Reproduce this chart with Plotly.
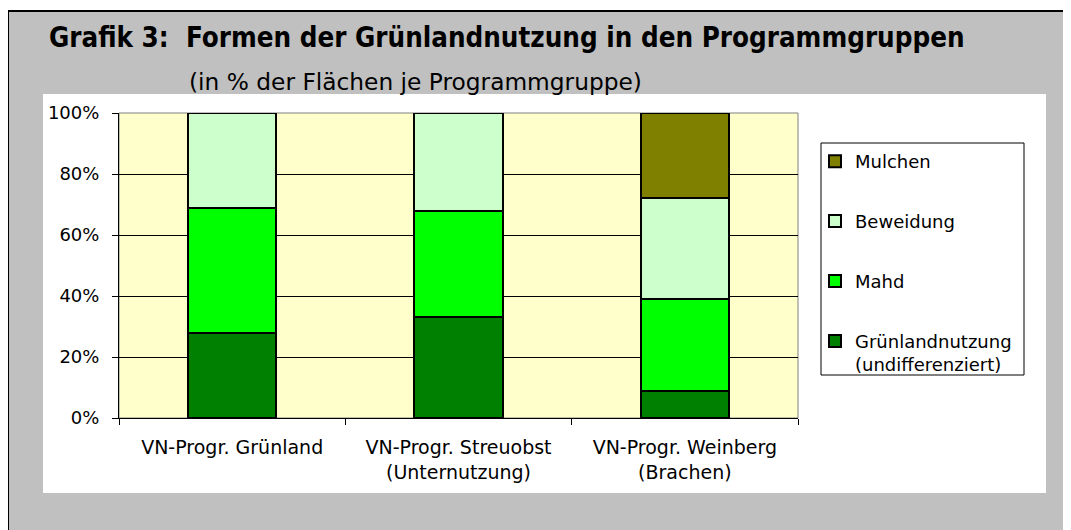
import plotly.graph_objects as go

categories = ["VN-Progr. Grünland", "VN-Progr. Streuobst<br>(Unternutzung)", "VN-Progr. Weinberg<br>(Brachen)"]
series_names = ["Grünlandnutzung<br>(undifferenziert)", "Mahd", "Beweidung", "Mulchen"]
gruenland = [28, 33, 9]
mahd = [41, 35, 30]
beweidung = [31, 32, 33]
mulchen = [0, 0, 28]
colors = ["#008000", "#00FF00", "#CCFFCC", "#808000"]
ranks = [4, 3, 2, 1]
y_ticks = [0, 20, 40, 60, 80, 100]

W, H = 1071, 530
OFF = 8  # page body margin
L, R, T, B = 119, 798, 113, 418  # plot area in screen px


def px_x(px):
    return (px - L) / (R - L)


def px_y(py):
    return (B - py) / (B - T)


fig = go.Figure()
for name, vals, col, rk in zip(series_names, [gruenland, mahd, beweidung, mulchen], colors, ranks):
    fig.add_trace(go.Bar(
        x=categories, y=vals, name=name, legendgroup=name, legendrank=rk,
        marker=dict(color=col, line=dict(color="#000000", width=2)),
        width=0.39,
    ))

shapes = [
    dict(type="rect", xref="paper", yref="paper", x0=px_x(8), x1=px_x(1090), y0=px_y(550), y1=px_y(11),
         fillcolor="#C0C0C0", line=dict(color="#000000", width=2), layer="below"),
    dict(type="rect", xref="paper", yref="paper", x0=px_x(43), x1=px_x(1046), y0=px_y(493), y1=px_y(94),
         fillcolor="#FFFFFF", line=dict(width=0), layer="below"),
    dict(type="rect", xref="paper", yref="paper", x0=0, x1=1, y0=0, y1=1,
         fillcolor="#FFFFCC", line=dict(color="#808080", width=1), layer="below"),
    dict(type="rect", xref="paper", yref="paper", x0=px_x(821), x1=px_x(1024), y0=px_y(375), y1=px_y(143),
         fillcolor="#FFFFFF", line=dict(color="#000000", width=1), layer="above"),
]

annotations = [
    dict(text="<b>Grafik 3:\u00a0\u00a0Formen der Grünlandnutzung in den Programmgruppen</b>",
         xref="paper", yref="paper", x=px_x(47), y=px_y(37), xanchor="left", yanchor="middle",
         showarrow=False,
         font=dict(family="Liberation Sans Narrow, Arial Narrow, DejaVu Sans Condensed, sans-serif", size=27.5, color="#000000")),
    dict(text="(in % der Flächen je Programmgruppe)",
         xref="paper", yref="paper", x=px_x(187), y=px_y(81), xanchor="left", yanchor="middle",
         showarrow=False,
         font=dict(family="DejaVu Sans", size=23.3, color="#000000")),
]

fig.update_layout(
    width=W, height=H,
    margin=dict(l=L - OFF, r=W - (R - OFF), t=T - OFF, b=H - (B - OFF), pad=0),
    paper_bgcolor="#FFFFFF",
    plot_bgcolor="rgba(0,0,0,0)",
    barmode="stack",
    shapes=shapes,
    annotations=annotations,
    font=dict(family="DejaVu Sans", size=18, color="#000000"),
    legend=dict(
        x=px_x(815), y=px_y(143), xanchor="left", yanchor="top",
        bgcolor="rgba(0,0,0,0)", borderwidth=0,
        traceorder="grouped", tracegroupgap=33.5, valign="top",
        font=dict(family="DejaVu Sans", size=18, color="#000000"),
    ),
    showlegend=True,
)

fig.update_xaxes(
    showgrid=False, showline=True, linecolor="#000000", linewidth=1,
    ticks="outside", tickson="boundaries", ticklen=6, tickcolor="#000000",
    ticklabelstandoff=12,
    tickfont=dict(family="DejaVu Sans", size=19, color="#000000"),
    fixedrange=True,
)
fig.update_yaxes(
    range=[0, 100], tickvals=y_ticks, ticktext=[f"{v}%" for v in y_ticks],
    showgrid=True, gridcolor="#000000", gridwidth=1,
    showline=True, linecolor="#000000", linewidth=1,
    ticks="outside", ticklen=6, tickcolor="#000000",
    ticklabelstandoff=9,
    tickfont=dict(family="DejaVu Sans", size=18, color="#000000"),
    zeroline=False, fixedrange=True,
)

fig.write_html("out.html")
